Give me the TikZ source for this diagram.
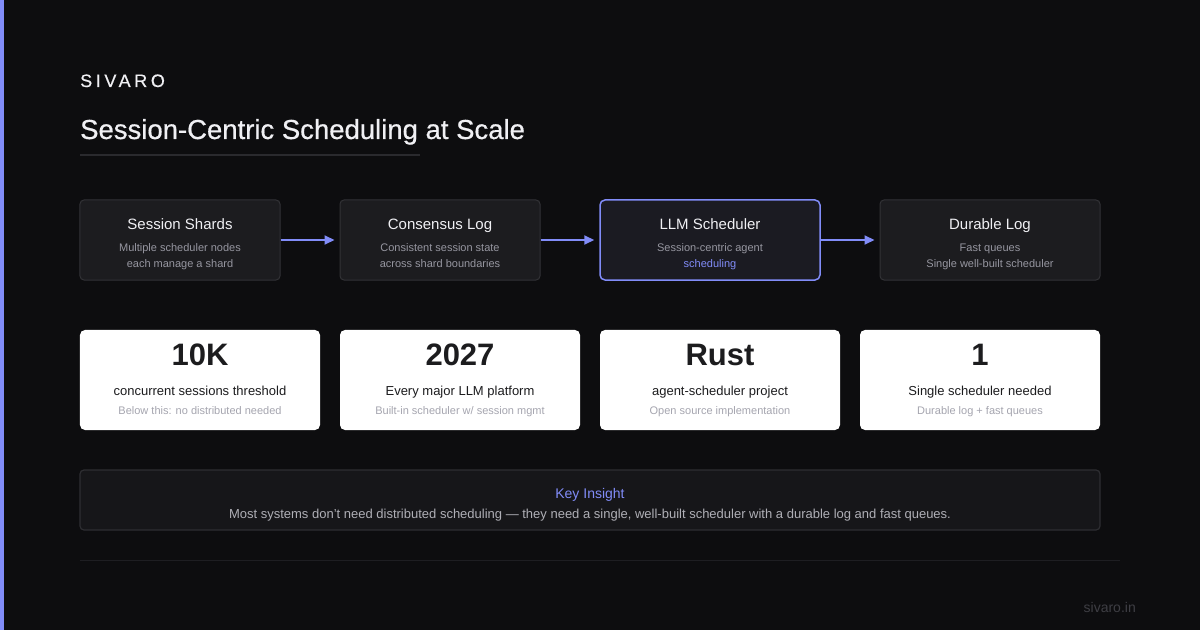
\documentclass[tikz,border=0pt]{standalone}
\usepackage{fontspec}
\setmainfont{Liberation Sans}
\newfontfamily\spacedfont[LetterSpace=20,FakeBold=0.5]{Liberation Sans}
\newfontfamily\medfont[FakeBold=0.6]{Liberation Sans}
\usetikzlibrary{arrows.meta}
\definecolor{bg}{RGB}{13,13,15}
\definecolor{stripe}{RGB}{129,140,248}
\definecolor{indigo}{RGB}{129,140,248}
\definecolor{boxfill}{RGB}{28,28,31}
\definecolor{boxline}{RGB}{50,50,54}
\definecolor{llmfill}{RGB}{27,27,34}
\definecolor{subgray}{RGB}{150,150,160}
\definecolor{titlewhite}{RGB}{240,240,244}
\definecolor{rulegray}{RGB}{42,42,46}
\definecolor{darkrule}{RGB}{30,30,34}
\definecolor{cardtext}{RGB}{28,28,30}
\definecolor{cardsub}{RGB}{165,165,175}
\definecolor{insfill}{RGB}{22,22,25}
\definecolor{insline}{RGB}{46,46,50}
\definecolor{insbody}{RGB}{175,175,182}
\definecolor{footgray}{RGB}{62,62,68}
\newcommand{\fsz}[1]{\fontsize{#1bp}{#1bp}\selectfont}
\tikzset{
  flowbox/.style={draw=boxline, fill=boxfill, line width=1bp, rounded corners=4bp, minimum height=80bp, inner sep=0pt},
  llmbox/.style={draw=indigo, fill=llmfill, line width=1.5bp, rounded corners=5bp, minimum height=80bp, inner sep=0pt},
  card/.style={fill=white, rounded corners=5bp, minimum width=240bp, minimum height=100bp, inner sep=0pt},
  txt/.style={anchor=base, inner sep=0pt},
  boxtitle/.style={txt, text=titlewhite, font=\fsz{15}},
  boxsub/.style={txt, text=subgray, font=\fsz{11}},
  statnum/.style={txt, text=cardtext, font=\fsz{31}\bfseries},
  statlabel/.style={txt, text=cardtext, font=\fsz{13}},
  statsub/.style={txt, text=cardsub, font=\fsz{11}},
  flowarrow/.style={draw=indigo, line width=2bp, -{Triangle[length=10bp,width=9bp]}, shorten >=5bp}
}
\begin{document}
\begin{tikzpicture}[x=1bp, y=-1bp]
\fill[bg] (0,0) rectangle (1200,630);
\useasboundingbox (0,0) rectangle (1200,630);
\fill[stripe] (0,0) rectangle (4,630);

% header
\node[anchor=base west, inner sep=0pt, text=titlewhite, font=\fsz{18}\spacedfont] (brand) at (80,87) {SIVARO};
\node[anchor=base west, inner sep=0pt, text=titlewhite, font=\fsz{27.5}\medfont] (title) at (80,139) {Session-Centric Scheduling at Scale};
\coordinate (ulA) at (80,155);
\coordinate (ulB) at (420,155);
\draw[rulegray, line width=1.5bp] (ulA) -- (ulB);

% flow boxes
\node[flowbox, minimum width=200bp] (b1) at (180,240) {};
\node[flowbox, minimum width=200bp] (b2) at (440,240) {};
\node[llmbox, minimum width=220bp] (b3) at (710,240) {};
\node[flowbox, minimum width=220bp] (b4) at (990,240) {};

\node[boxtitle] (t1) at (180,230) {Session Shards};
\node[boxsub] (s1a) at (180,252) {Multiple scheduler nodes};
\node[boxsub] (s1b) at (180,268) {each manage a shard};

\node[boxtitle] (t2) at (440,230) {Consensus Log};
\node[boxsub] (s2a) at (440,252) {Consistent session state};
\node[boxsub] (s2b) at (440,268) {across shard boundaries};

\node[boxtitle] (t3) at (710,230) {LLM Scheduler};
\node[boxsub] (s3a) at (710,252) {Session-centric agent};
\node[boxsub, text=indigo] (s3b) at (710,268) {scheduling};

\node[boxtitle] (t4) at (990,230) {Durable Log};
\node[boxsub] (s4a) at (990,252) {Fast queues};
\node[boxsub] (s4b) at (990,268) {Single well-built scheduler};

\draw[flowarrow] (b1.east) -- (b2.west);
\draw[flowarrow] (b2.east) -- (b3.west);
\draw[flowarrow] (b3.east) -- (b4.west);

% stat cards
\node[card] (c1) at (200,380) {};
\node[card] (c2) at (460,380) {};
\node[card] (c3) at (720,380) {};
\node[card] (c4) at (980,380) {};

\node[statnum] (n1) at (200,365) {10K};
\node[statlabel] (l1) at (200,395) {concurrent sessions threshold};
\node[statsub] (u1) at (200,414) {Below this: no distributed needed};

\node[statnum] (n2) at (460,365) {2027};
\node[statlabel] (l2) at (460,395) {Every major LLM platform};
\node[statsub] (u2) at (460,414) {Built-in scheduler w/ session mgmt};

\node[statnum] (n3) at (720,365) {Rust};
\node[statlabel] (l3) at (720,395) {agent-scheduler project};
\node[statsub] (u3) at (720,414) {Open source implementation};

\node[statnum] (n4) at (980,365) {1};
\node[statlabel] (l4) at (980,395) {Single scheduler needed};
\node[statsub] (u4) at (980,414) {Durable log + fast queues};

% insight
\node[draw=insline, fill=insfill, line width=1.2bp, rounded corners=4bp, minimum width=1020bp, minimum height=60bp, inner sep=0pt] (ins) at (590,500) {};
\node[txt, text=indigo, font=\fsz{14}] (inshead) at (590,498) {Key Insight};
\node[txt, text=insbody, font=\fsz{13}] (insbody) at (590,518) {Most systems don't need distributed scheduling — they need a single, well-built scheduler with a durable log and fast queues.};

% footer
\coordinate (frA) at (80,560);
\coordinate (frB) at (1120,560);
\draw[darkrule, line width=1bp] (frA) -- (frB);
\node[anchor=base east, inner sep=0pt, text=footgray, font=\fsz{14}] (foot) at (1136,612) {sivaro.in};
\end{tikzpicture}
\end{document}
